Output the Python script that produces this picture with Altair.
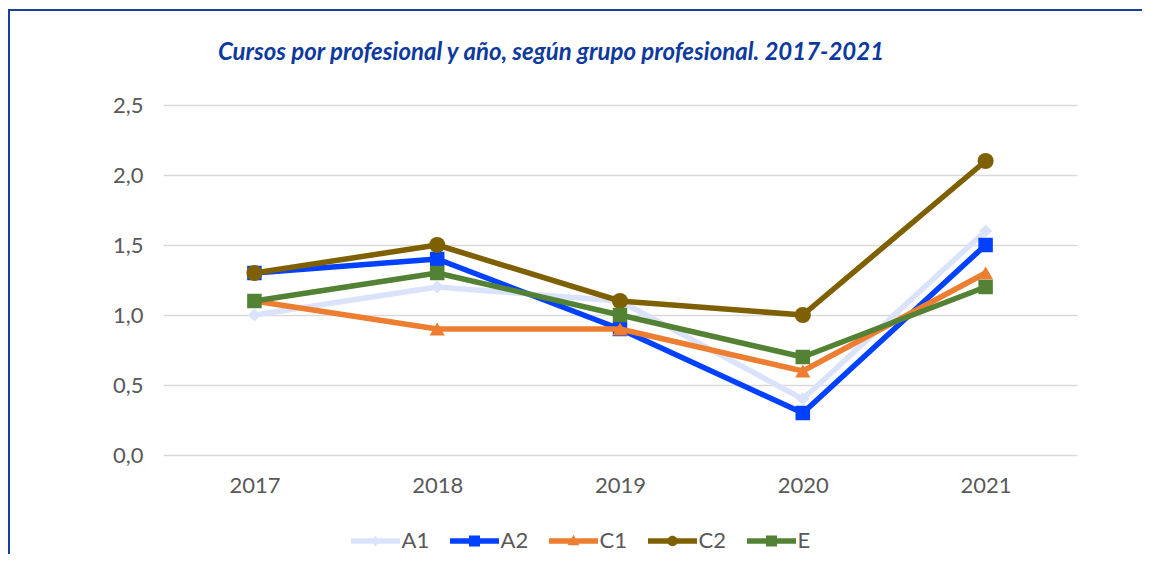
import altair as alt
import pandas as pd

years = ["2017", "2018", "2019", "2020", "2021"]
series = ["A1", "A2", "C1", "C2", "E"]
A1 = [1.0, 1.2, 1.1, 0.4, 1.6]
A2 = [1.3, 1.4, 0.9, 0.3, 1.5]
C1 = [1.1, 0.9, 0.9, 0.6, 1.3]
C2 = [1.3, 1.5, 1.1, 1.0, 2.1]
E = [1.1, 1.3, 1.0, 0.7, 1.2]
y_ticks = [0.0, 0.5, 1.0, 1.5, 2.0, 2.5]

colors = ["#DAE3FA", "#0041FF", "#ED7D31", "#7F6000", "#548235"]
shapes = ["diamond", "square", "triangle-up", "circle", "square"]
marker_sizes = [170, 210, 230, 260, 210]
title = "Cursos por profesional y año, según grupo profesional. 2017-2021"

rows = []
for name, vals in zip(series, [A1, A2, C1, C2, E]):
    for yr, v in zip(years, vals):
        rows.append({"year": yr, "serie": name, "value": v})
df = pd.DataFrame(rows)

FONT = "Lato"
TXT = "#595959"
FS = 22

# legend symbol paths (unit = 10px): line + marker
line_p = "M-2.45,-0.28L2.45,-0.28L2.45,0.28L-2.45,0.28Z"
marker_p = {
    "A1": "M0,-0.55L0.42,0L0,0.55L-0.42,0Z",
    "A2": "M-0.55,-0.55L0.55,-0.55L0.55,0.55L-0.55,0.55Z",
    "C1": "M0,-0.62L0.58,0.42L-0.58,0.42Z",
    "C2": "M-0.52,0A0.52,0.52,0,1,1,0.52,0A0.52,0.52,0,1,1,-0.52,0Z",
    "E": "M-0.55,-0.55L0.55,-0.55L0.55,0.55L-0.55,0.55Z",
}
legend_paths = [line_p + marker_p[s] for s in series]

color_scale = alt.Scale(domain=series, range=colors)

x_enc = alt.X(
    "year:N",
    sort=years,
    scale=alt.Scale(type="point", padding=0.5),
    axis=alt.Axis(
        title=None, labelAngle=0, domain=False, ticks=False, grid=False,
        labelFont=FONT, labelFontSize=FS, labelColor=TXT, labelPadding=20,
    ),
)
y_enc = alt.Y(
    "value:Q",
    scale=alt.Scale(domain=[0, 2.5], nice=False),
    axis=alt.Axis(
        title=None, values=y_ticks, domain=False, ticks=False,
        gridColor="#D9D9D9", gridWidth=1.5,
        labelFont=FONT, labelFontSize=FS, labelColor=TXT, labelPadding=20,
        labelExpr="replace(format(datum.value, '.1f'), '.', ',')",
    ),
)

legend_props = dict(
    title=None, orient="none", direction="horizontal",
    legendX=201.5, legendY=425,
    symbolSize=400, symbolOpacity=1, symbolStrokeWidth=0,
    labelFont=FONT, labelFontSize=FS, labelColor=TXT,
    labelOffset=15, columnPadding=20,
)

layers = []
for s, shp, col, ms in zip(series, shapes, colors, marker_sizes):
    base = alt.Chart(df).transform_filter(alt.datum.serie == s)
    layers.append(
        base.mark_line(strokeWidth=5.5, strokeCap="round", strokeJoin="round", color=col)
        .encode(x=x_enc, y=y_enc)
    )
    layers.append(
        base.mark_point(filled=True, opacity=1, size=ms, shape=shp, color=col)
        .encode(x=x_enc, y=y_enc)
    )

legend_layer = alt.Chart(df).mark_point(filled=True, opacity=0, size=10).encode(
    x=x_enc,
    y=y_enc,
    color=alt.Color("serie:N", scale=color_scale, legend=alt.Legend(**legend_props)),
    shape=alt.Shape(
        "serie:N",
        scale=alt.Scale(domain=series, range=legend_paths),
        legend=alt.Legend(**legend_props),
    ),
)

frame_df = pd.DataFrame({"k": [0]})
frame_v = alt.Chart(frame_df).mark_rule(color="#1B3F9E", strokeWidth=2).encode(
    x=alt.value(-154), y=alt.value(-95), y2=alt.value(460)
)
frame_h = alt.Chart(frame_df).mark_rule(color="#1B3F9E", strokeWidth=2).encode(
    x=alt.value(-155), x2=alt.value(990), y=alt.value(-95)
)

chart = alt.layer(*layers, legend_layer, frame_v, frame_h).properties(
    width=914,
    height=350,
    padding={"left": 155, "top": 97, "right": 65, "bottom": 99},
    autosize=alt.AutoSizeParams(type="none"),
    title=alt.TitleParams(
        title, font=FONT, fontSize=24, fontStyle="italic", fontWeight="bold",
        color="#0D3A9C", anchor="middle", dx=-69, offset=-75, baseline="alphabetic",
    ),
).configure_view(stroke=None)

chart.save("out.html", embed_options={"renderer": "svg", "actions": False})
